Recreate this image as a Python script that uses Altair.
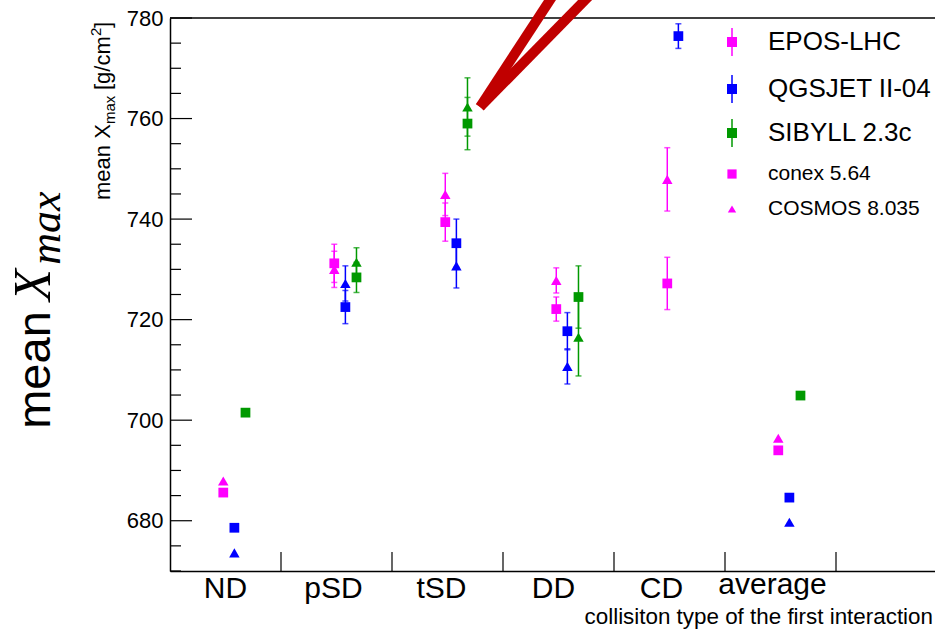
import altair as alt
import pandas as pd

# ---------------- data ----------------
categories = ["ND", "pSD", "tSD", "DD", "CD", "average"]
models = ["EPOS-LHC", "QGSJET II-04", "SIBYLL 2.3c"]
generators = ["conex 5.64", "COSMOS 8.035"]

epos_conex = [685.6, 731.2, 739.4, 722.1, 727.2, 694.0]
epos_conex_err = [0.0, 3.8, 3.8, 2.4, 5.2, 0.0]
epos_cosmos = [687.9, 730.0, 744.9, 727.8, 747.9, 696.4]
epos_cosmos_err = [0.0, 3.6, 4.2, 2.5, 6.3, 0.0]

qgs_conex = [678.6, 722.5, 735.2, 717.7, 776.4, 684.6]
qgs_conex_err = [0.0, 3.3, 4.8, 3.7, 2.45, 0.0]
qgs_cosmos = [673.6, 727.2, 730.7, 710.7, None, 679.7]
qgs_cosmos_err = [0.0, 3.5, 4.4, 3.5, None, 0.0]

sib_conex = [701.5, 728.4, 759.0, 724.5, None, 704.9]
sib_conex_err = [0.0, 3.0, 5.2, 6.2, None, 0.0]
sib_cosmos = [None, 731.4, 762.3, 716.5, None, None]
sib_cosmos_err = [None, 2.9, 5.8, 7.7, None, None]

y_tick_values = [680, 700, 720, 740, 760, 780]
y_minor_values = [v for v in range(670, 781, 5) if v % 20 != 0]

# ---------------- styling / layout ----------------
model_colors = {"EPOS-LHC": "#ff00ff", "QGSJET II-04": "#0000ff", "SIBYLL 2.3c": "#009900"}
model_offsets = {"EPOS-LHC": -0.02, "QGSJET II-04": 0.08, "SIBYLL 2.3c": 0.18}

W, H = 765, 553
PX_PER_BIN = 111.0
XMAX = W / PX_PER_BIN
SANS = "Liberation Sans"
SERIF = "Liberation Serif"
label_nudge_px = [0, -3, -6, -5, -8, -8]

series = [
    ("EPOS-LHC", "conex 5.64", epos_conex, epos_conex_err),
    ("EPOS-LHC", "COSMOS 8.035", epos_cosmos, epos_cosmos_err),
    ("QGSJET II-04", "conex 5.64", qgs_conex, qgs_conex_err),
    ("QGSJET II-04", "COSMOS 8.035", qgs_cosmos, qgs_cosmos_err),
    ("SIBYLL 2.3c", "conex 5.64", sib_conex, sib_conex_err),
    ("SIBYLL 2.3c", "COSMOS 8.035", sib_cosmos, sib_cosmos_err),
]

rows = []
for model, gen, vals, errs in series:
    for i, (v, e) in enumerate(zip(vals, errs)):
        if v is None:
            continue
        rows.append({
            "model": model, "gen": gen, "cat": categories[i],
            "x": i + 0.5 + model_offsets[model], "y": v, "err": e or 0.0,
            "lo": v - (e or 0.0), "hi": v + (e or 0.0),
            "color": model_colors[model],
        })
df = pd.DataFrame(rows)
df_err = df[df["err"] > 0].copy()
df_caps = pd.concat([
    df_err[["x", "color"]].assign(yc=df_err["lo"]),
    df_err[["x", "color"]].assign(yc=df_err["hi"]),
])

xscale = alt.Scale(domain=[0, XMAX], nice=False, zero=False)
yscale = alt.Scale(domain=[670, 780], nice=False, zero=False)
xaxis = alt.Axis(labels=False, ticks=False, grid=False, title=None, domain=True,
                 domainColor="black", domainWidth=1.5)
yaxis = alt.Axis(values=y_tick_values, ticks=False, grid=False, title=None, domain=True,
                 domainColor="black", domainWidth=1.5, labelFont=SANS, labelFontSize=22,
                 labelColor="black", labelPadding=7, labelFlush=False)


def X(field):
    return alt.X(field, type="quantitative", scale=xscale, axis=xaxis)


def Y(field):
    return alt.Y(field, type="quantitative", scale=yscale, axis=yaxis)


color_enc = alt.Color("color:N", scale=None)

# error bars
err_lines = alt.Chart(df_err).mark_rule(strokeWidth=1.5).encode(
    x=X("x"), y=Y("lo"), y2="hi", color=color_enc)
err_caps = alt.Chart(df_caps).mark_tick(orient="horizontal", size=6, thickness=1.5).encode(
    x=X("x"), y=Y("yc"), color=color_enc)

tri = alt.Chart(df[df["gen"] == "COSMOS 8.035"]).mark_point(
    shape="triangle-up", filled=True, size=110, opacity=1).encode(
    x=X("x"), y=Y("y"), color=color_enc)
sq = alt.Chart(df[df["gen"] == "conex 5.64"]).mark_point(
    shape="square", filled=True, size=95, opacity=1).encode(
    x=X("x"), y=Y("y"), color=color_enc)

# frame & inner ticks
df_major = pd.DataFrame({"v": y_tick_values})
df_minor = pd.DataFrame({"v": y_minor_values})
major_ticks = alt.Chart(df_major).mark_rule(color="black", strokeWidth=1.2).encode(
    y=Y("v"), x=alt.value(0), x2=alt.value(22))
minor_ticks = alt.Chart(df_minor).mark_rule(color="black", strokeWidth=1.2).encode(
    y=Y("v"), x=alt.value(0), x2=alt.value(11))
df_xt = pd.DataFrame({"b": list(range(1, len(categories) + 1))})
x_ticks = alt.Chart(df_xt).mark_rule(color="black", strokeWidth=1.2).encode(
    x=X("b"), y=alt.value(H), y2=alt.value(H - 19))
top_line = alt.Chart(pd.DataFrame({"a": [0]})).mark_rule(color="black", strokeWidth=1.5).encode(
    x=alt.value(0), x2=alt.value(W), y=alt.value(0))

# red annotation lines (V shape pointing to SIBYLL tSD)
df_red = pd.DataFrame({"x0": [2.793, 2.793], "y0": [762.3, 762.3],
                       "x1": [3.495, 3.847], "y1": [786.0, 786.0]})
red = alt.Chart(df_red).mark_rule(color="#c00000", strokeWidth=10, strokeCap="butt").encode(
    x=X("x0"), y=Y("y0"), x2="x1", y2="y1")

# category labels
df_lab = pd.DataFrame({
    "cat": categories,
    "xc": [i + 0.5 + label_nudge_px[i] / PX_PER_BIN for i in range(len(categories))],
    "raised": [False, False, False, False, False, True],
})
cat_main = alt.Chart(df_lab[~df_lab["raised"]]).mark_text(
    font=SANS, fontSize=30, baseline="alphabetic", align="center", color="black").encode(
    x=X("xc"), y=alt.value(H + 27), text="cat:N")
cat_avg = alt.Chart(df_lab[df_lab["raised"]]).mark_text(
    font=SANS, fontSize=30, baseline="alphabetic", align="center", color="black").encode(
    x=X("xc"), y=alt.value(H + 23), text="cat:N")

one = pd.DataFrame({"a": [0]})


def txt(s, x, y, **kw):
    return alt.Chart(one).mark_text(text=s, color="black", **kw).encode(
        x=alt.value(x), y=alt.value(y))


x_title = txt("collisiton type of the first interaction", W - 2, H + 53,
              font=SANS, fontSize=22.4, align="right", baseline="alphabetic")

# small y title (rotated)
small_title = [
    txt("mean X", -60, 182, font=SANS, fontSize=22, angle=270, align="left", baseline="alphabetic"),
    txt("max", -55, 106, font=SANS, fontSize=15, angle=270, align="left", baseline="alphabetic"),
    txt("[g/cm", -60, 72, font=SANS, fontSize=22, angle=270, align="left", baseline="alphabetic"),
    txt("2", -69, 18, font=SANS, fontSize=15, angle=270, align="left", baseline="alphabetic"),
    txt("]", -60, 10, font=SANS, fontSize=22, angle=270, align="left", baseline="alphabetic"),
]

# big y title (rotated)
big_title = [
    txt("mean", -120, 352, font=SANS, fontSize=47, angle=270, align="center", baseline="alphabetic"),
    txt("X", -120, 267, font=SERIF, fontStyle="italic", fontSize=52, angle=270, align="center",
        baseline="alphabetic"),
    txt("max", -110, 210, font=SERIF, fontStyle="italic", fontSize=44, angle=270, align="center",
        baseline="alphabetic"),
]

# legend
leg_labels = models + generators
leg_colors = [model_colors[m] for m in models] + ["#ff00ff", "#ff00ff"]
leg_shapes = ["square", "square", "square", "square", "triangle-up"]
leg_sizes = [100, 100, 100, 85, 70]
leg_fonts = [26, 26, 26, 21, 21]
leg_rows = [24, 71, 115, 156, 191]
df_leg = pd.DataFrame({"label": leg_labels, "color": leg_colors, "shape": leg_shapes,
                       "size": leg_sizes, "fs": leg_fonts, "py": leg_rows,
                       "bar": [1, 1, 1, 0, 0]})
df_leg["lo"] = df_leg["py"] - 14
df_leg["hi"] = df_leg["py"] + 14
LX = 732 - 170
leg_bars = alt.Chart(df_leg[df_leg["bar"] == 1]).mark_rule(strokeWidth=1.5).encode(
    x=alt.value(LX), y=alt.Y("lo:Q", scale=None), y2="hi:Q", color=color_enc)
leg_sq = alt.Chart(df_leg[df_leg["shape"] == "square"]).mark_point(
    shape="square", filled=True, opacity=1).encode(
    x=alt.value(LX), y=alt.Y("py:Q", scale=None), color=color_enc,
    size=alt.Size("size:Q", scale=None))
leg_tri = alt.Chart(df_leg[df_leg["shape"] == "triangle-up"]).mark_point(
    shape="triangle-up", filled=True, opacity=1).encode(
    x=alt.value(LX), y=alt.Y("py:Q", scale=None), color=color_enc,
    size=alt.Size("size:Q", scale=None))
leg_big = alt.Chart(df_leg[df_leg["fs"] == 26]).mark_text(
    font=SANS, fontSize=26, align="left", baseline="middle", color="black").encode(
    x=alt.value(768 - 170), y=alt.Y("py:Q", scale=None), text="label:N")
leg_small = alt.Chart(df_leg[df_leg["fs"] == 21]).mark_text(
    font=SANS, fontSize=21, align="left", baseline="middle", color="black").encode(
    x=alt.value(768 - 170), y=alt.Y("py:Q", scale=None), text="label:N")

chart = alt.layer(
    major_ticks, minor_ticks, x_ticks, top_line,
    err_lines, err_caps, tri, sq, red,
    cat_main, cat_avg, x_title, *small_title, *big_title,
    leg_bars, leg_sq, leg_tri, leg_big, leg_small,
).properties(
    width=W, height=H,
    padding={"left": 170, "top": 18, "right": 0, "bottom": 58},
    autosize=alt.AutoSizeParams(type="none"),
    background="white",
).configure_view(strokeWidth=0)

chart.save("out.html", embed_options={"renderer": "svg", "actions": False})
